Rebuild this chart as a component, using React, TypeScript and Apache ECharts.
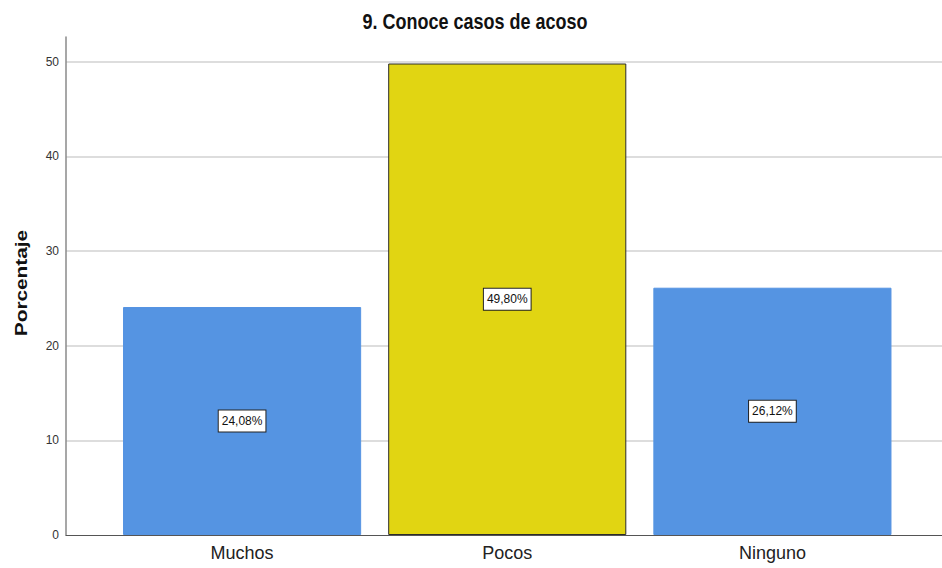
import React, { useEffect, useRef } from "react";
import * as echarts from "echarts";

// Survey question 9: how many harassment cases the respondent knows of (percent)
const categories = ["Muchos", "Pocos", "Ninguno"];
const percentages = [24.08, 49.8, 26.12];
const barColors = ["#5594e2", "#e1d512", "#5594e2"];
const barBorders = ["#5594e2", "#2b2b2b", "#5594e2"];
const yTicks = [0, 10, 20, 30, 40, 50];

const titleText = "9. Conoce casos de acoso";
const yAxisName = "Porcentaje";

const FONT = "'Liberation Sans', Arial, sans-serif";

export default function App() {
  const ref = useRef<HTMLDivElement>(null);

  useEffect(() => {
    if (!ref.current) return;
    const chart = echarts.init(ref.current, undefined, { renderer: "svg" });

    const yMax = 52.6;
    const tickStep = yTicks[1] - yTicks[0];

    chart.setOption({
      animation: false,
      backgroundColor: "#ffffff",
      textStyle: { fontFamily: FONT },
      graphic: [
        {
          type: "text",
          x: 475,
          y: 21,
          scaleY: 1.2,
          style: {
            text: titleText,
            font: `bold 18px ${FONT}`,
            fill: "#111",
            textAlign: "center",
            textVerticalAlign: "middle",
          },
        },
        {
          type: "text",
          x: 21,
          y: 283,
          rotation: Math.PI / 2,
          scaleX: 1.3,
          style: {
            text: yAxisName,
            font: `bold 16px ${FONT}`,
            fill: "#111",
            textAlign: "center",
            textVerticalAlign: "middle",
          },
        },
      ],
      grid: [
        // frame: y axis, gridlines and baseline across the full width
        { left: 66, right: 0, top: 37, bottom: 33 },
        // bar area, inset from the frame on both sides
        { left: 109.5, right: 37, top: 37, bottom: 33 },
      ],
      xAxis: [
        {
          type: "category",
          gridIndex: 0,
          data: categories,
          axisLine: { show: true, lineStyle: { color: "#555", width: 1 } },
          axisTick: { show: false },
          axisLabel: { show: false },
          splitLine: { show: false },
        },
        {
          type: "category",
          gridIndex: 1,
          data: categories,
          axisLine: { show: false },
          axisTick: { show: false },
          axisLabel: {
            color: "#222",
            fontSize: 18,
            fontFamily: FONT,
            margin: 9,
          },
        },
      ],
      yAxis: [
        {
          type: "value",
          gridIndex: 0,
          min: 0,
          max: yMax,
          interval: tickStep,
          axisLine: { show: true, lineStyle: { color: "#8a8a8a", width: 1.5 } },
          axisTick: { show: false },
          axisLabel: {
            color: "#333",
            fontSize: 12,
            fontFamily: FONT,
            margin: 7,
            showMaxLabel: false,
            formatter: (v: number) => (yTicks.includes(v) ? String(v) : ""),
          },
          splitLine: {
            show: true,
            showMinLine: false,
            showMaxLine: false,
            lineStyle: { color: "#d2d2d2", width: 1.5 },
          },
        },
        {
          type: "value",
          gridIndex: 1,
          min: 0,
          max: yMax,
          interval: tickStep,
          show: false,
          splitLine: { show: false },
        },
      ],
      series: [
        {
          type: "bar",
          xAxisIndex: 1,
          yAxisIndex: 1,
          barCategoryGap: "10.2%",
          data: percentages.map((v, i) => ({
            value: v,
            itemStyle: {
              color: barColors[i],
              borderColor: barBorders[i],
              borderWidth: 1,
            },
          })),
          label: {
            show: true,
            position: "inside",
            formatter: (p: any) => p.value.toFixed(2).replace(".", ",") + "%",
            color: "#111",
            fontSize: 12,
            fontFamily: FONT,
            lineHeight: 14,
            backgroundColor: "#ffffff",
            borderColor: "#222",
            borderWidth: 1,
            padding: [4, 3, 3, 3],
          },
        },
      ],
    });

    return () => chart.dispose();
  }, []);

  return (
    <div
      ref={ref}
      style={{ position: "absolute", left: 0, top: 0, width: 942, height: 568 }}
    />
  );
}
